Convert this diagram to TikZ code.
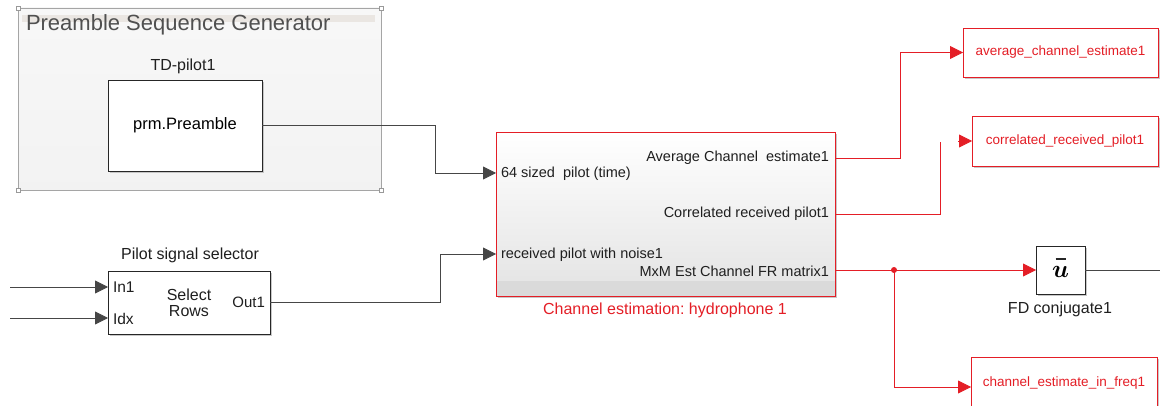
\documentclass[tikz,border=0pt]{standalone}
\usepackage{fontspec}
\setmainfont{Liberation Sans}
\usetikzlibrary{arrows.meta,shadows,calc}
\definecolor{simred}{RGB}{228,30,38}
\definecolor{wirecol}{RGB}{70,70,70}
\definecolor{areaborder}{RGB}{165,165,165}
\definecolor{titlegray}{RGB}{80,80,80}
\definecolor{bandcol}{RGB}{234,230,226}
\definecolor{chband}{RGB}{218,218,218}
\newcommand{\fs}[1]{\fontsize{#1}{#1}\selectfont}
\frenchspacing
\begin{document}
\begin{tikzpicture}[x=1pt,y=-1pt,
  every node/.style={inner sep=0pt, outer sep=0pt},
  blk/.style={draw=black!85, fill=white, line width=0.9pt, anchor=north west,
    drop shadow={shadow xshift=1.6pt, shadow yshift=-1.6pt, fill=black!30, opacity=0.7}},
  redblk/.style={blk, draw=simred, text=simred, font=\fs{13.5}},
  lbl/.style={text=black!88, font=\fs{16}},
  port/.style={text=black!88, font=\fs{14.5}},
  wire/.style={draw=wirecol, line width=0.8pt},
  redwire/.style={draw=simred, line width=0.8pt},
  arr/.style={-{Triangle[length=13pt,width=13pt]}},
  handle/.style={draw=black!40, fill=white, line width=0.5pt}
]
\useasboundingbox (0,0) rectangle (1160,406);
\clip (0,0) rectangle (1160,406);
\fill[white] (0,0) rectangle (1160,406);

% ---- Preamble Sequence Generator area ----
\path[draw=areaborder, line width=0.8pt, top color=white!97!black, bottom color=white!95!black]
  (18,8) rectangle (381,190);
\fill[bandcol] (22,15) rectangle (375,22.5);
\node[anchor=base west, text=titlegray, font=\fs{22}] (title) at (26,31)
  {Preamble Sequence Generator};
\foreach \p in {(18,8),(381,8),(18,190),(381,190)}
  \draw[handle] \p ++(-2,-2) rectangle ++(4,4);

\node[lbl] (tdlabel) at (183,66) {TD-pilot1};
\node[blk, minimum width=154pt, minimum height=91pt, font=\fs{16.5}] (prm) at (108,80) {prm.Preamble};

% ---- Pilot signal selector ----
\node[lbl] (sellabel) at (190,255) {Pilot signal selector};
\node[blk, minimum width=162pt, minimum height=63pt] (sel) at (108,271) {};
\node[port, anchor=west, font=\fs{15.5}] (selin1) at (113,287) {In1};
\node[port, anchor=west, font=\fs{15.5}] (selidx) at (113,319) {Idx};
\node[lbl, align=center, font=\fs{16}, text depth=0pt] (selmid) at (189,303)
  {\fontsize{16}{15}\selectfont Select\\Rows};
\node[port, anchor=east, font=\fs{15}] (selout) at (265,302) {Out1};
\coordinate (src1) at (10,287);
\coordinate (src2) at (10,318);
\draw[wire, arr] (src1) -- (sel.west |- src1);
\draw[wire, arr] (src2) -- (sel.west |- src2);

% ---- Channel estimation block ----
\node[blk, draw=simred, minimum width=339pt, minimum height=164pt,
  top color=white, bottom color=black!11,
  path picture={\fill[chband] (path picture bounding box.south west)
     rectangle ($(path picture bounding box.south east)+(0,15pt)$);}]
  (ch) at (496,132) {};
\node[port, anchor=west] (pin1lbl) at (501,174) {64 sized\ \ pilot (time)};
\node[port, anchor=west] (pin2lbl) at (501,255) {received pilot with noise1};
\node[port, anchor=east] (pout1lbl) at (829,158) {Average Channel\ \ estimate1};
\node[port, anchor=east] (pout2lbl) at (829,214) {Correlated received pilot1};
\node[port, anchor=east] (pout3lbl) at (829,271) {MxM Est Channel FR matrix1};
\node[lbl, text=simred] (chlabel) at (665,310) {Channel estimation: hydrophone 1};

\coordinate (pin1) at (496,173);
\coordinate (pin2) at (496,254);
\coordinate (pout1) at (835,158);
\coordinate (pout2) at (835,214);
\coordinate (pout3) at (835,270);

% ---- Output blocks ----
\node[redblk, minimum width=195pt, minimum height=49pt] (avg) at (963,28) {average\_channel\_estimate1};
\node[redblk, minimum width=186pt, minimum height=50pt] (corr) at (972,116) {correlated\_received\_pilot1};
\node[redblk, minimum width=186pt, minimum height=60pt, anchor=north west] (cef) at (971,357) {};
\node[text=simred, font=\fs{13.5}] (ceftext) at (1064,383) {channel\_estimate\_in\_freq1};

% conjugate block: bold italic u with an overbar
\node[blk, minimum width=49pt, minimum height=48pt] (fd) at (1036,246) {};
\node[font=\fs{25}\boldmath] (fdu) at ($(fd.center)+(0,1.5)$) {$u$};
\draw[line width=1.5pt, black!85] ($(fd.center)+(-5,-11)$) -- ++(10,0);
\node[lbl] (fdlabel) at (1060,309) {FD conjugate1};

% ---- Wires ----
\coordinate (bendA) at (435,0);
\coordinate (bendB) at (440,0);
\coordinate (bendC) at (900,0);
\coordinate (bendD) at (940,142);
\coordinate (corrstub) at (958,141);
\coordinate (fdout) at (1160,270);

\draw[wire, arr] (prm.east) -- (prm.east -| bendA) |- (pin1);
\draw[wire, arr] (sel.east) -- (sel.east -| bendB) |- (pin2);

\draw[redwire, arr] (pout1) -- (pout1 -| bendC) |- (avg.west);
\draw[redwire] (pout2) -| (bendD);
\draw[redwire, arr] (corrstub) -- (corr.west);
\draw[redwire, arr] (pout3) -- (fd.west);
\coordinate (split) at (894,270);
\fill[simred] (split) circle (3pt);
\draw[redwire, arr] (split) |- (cef.west);
\draw[wire] (fd.east) -- (fdout);
\end{tikzpicture}
\end{document}
